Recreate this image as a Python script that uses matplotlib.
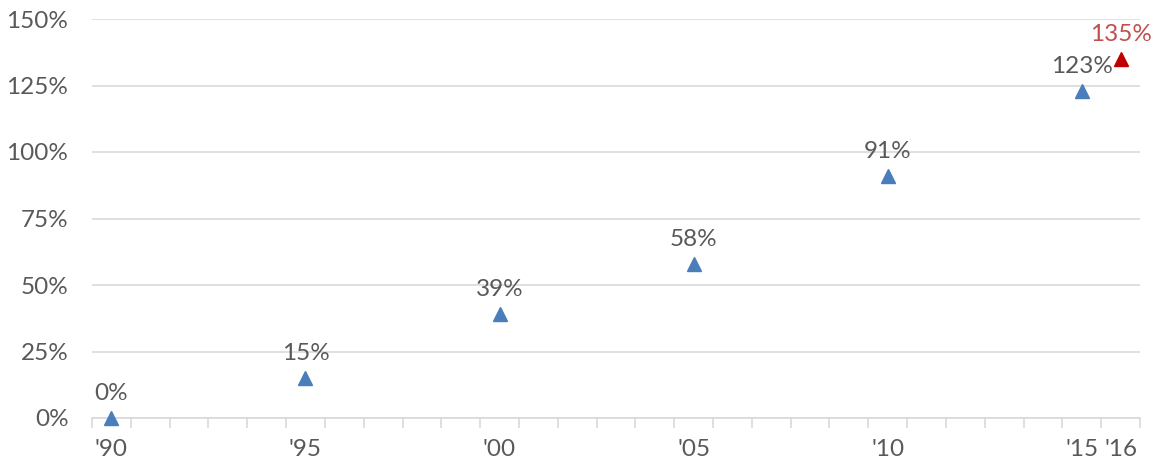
import numpy as np
import matplotlib
matplotlib.use("Agg")
import matplotlib.pyplot as plt

# data (growth since 1990, %)
years = [1990, 1995, 2000, 2005, 2010, 2015]
growth = [0, 15, 39, 58, 91, 123]
latest_year = 2016
latest_growth = 135

tick_years = [1990, 1995, 2000, 2005, 2010, 2015, 2016]
tick_labels = ["'90", "'95", "'00", "'05", "'10", "'15", "'16"]
y_ticks = [0, 25, 50, 75, 100, 125, 150]

plt.rcParams['font.family'] = ['Lato', 'DejaVu Sans']
text_color = '#595959'
blue = '#4a7ebb'
red = '#c00000'
fs = 17.5

fig = plt.figure(figsize=(11.52, 4.62), dpi=100)
ax = fig.add_axes([92 / 1152, 44 / 462, (1140 - 92) / 1152, (418 - 19) / 462])

# gridlines
for y in y_ticks:
    ax.axhline(y, color='#d9d9d9', lw=1.2, zorder=0)

ax.plot(years, growth, linestyle='none', marker='^', markersize=10,
        color=blue, zorder=3, clip_on=False)
ax.plot([latest_year], [latest_growth], linestyle='none', marker='^',
        markersize=10, color=red, zorder=3, clip_on=False)

# data labels
for x, v in zip(years, growth):
    ax.annotate(f"{v}%", (x, v), xytext=(0, 10), textcoords='offset points',
                ha='center', va='bottom', fontsize=fs, color=text_color)
ax.annotate(f"{latest_growth}%", (latest_year, latest_growth), xytext=(0, 10),
            textcoords='offset points', ha='center', va='bottom',
            fontsize=fs, color='#c0504d')

ax.set_xlim(1989.5, 2016.5)
ax.set_ylim(0, 150)

ax.set_yticks(y_ticks)
ax.set_yticklabels([f"{y}%" for y in y_ticks])
ax.set_xticks(tick_years)
ax.set_xticklabels(tick_labels)
ax.set_xticks(np.arange(1989.5, 2017, 1), minor=True)

ax.tick_params(axis='y', length=0, pad=17, labelsize=fs, labelcolor=text_color)
ax.tick_params(axis='x', which='major', length=0, pad=15, labelsize=fs,
               labelcolor=text_color)
ax.tick_params(axis='x', which='minor', length=7, color='#d9d9d9', width=1.2)

for side in ['top', 'right', 'left']:
    ax.spines[side].set_visible(False)
ax.spines['bottom'].set_color('#d9d9d9')
ax.spines['bottom'].set_linewidth(1.2)

fig.savefig('out.png', dpi=100)
